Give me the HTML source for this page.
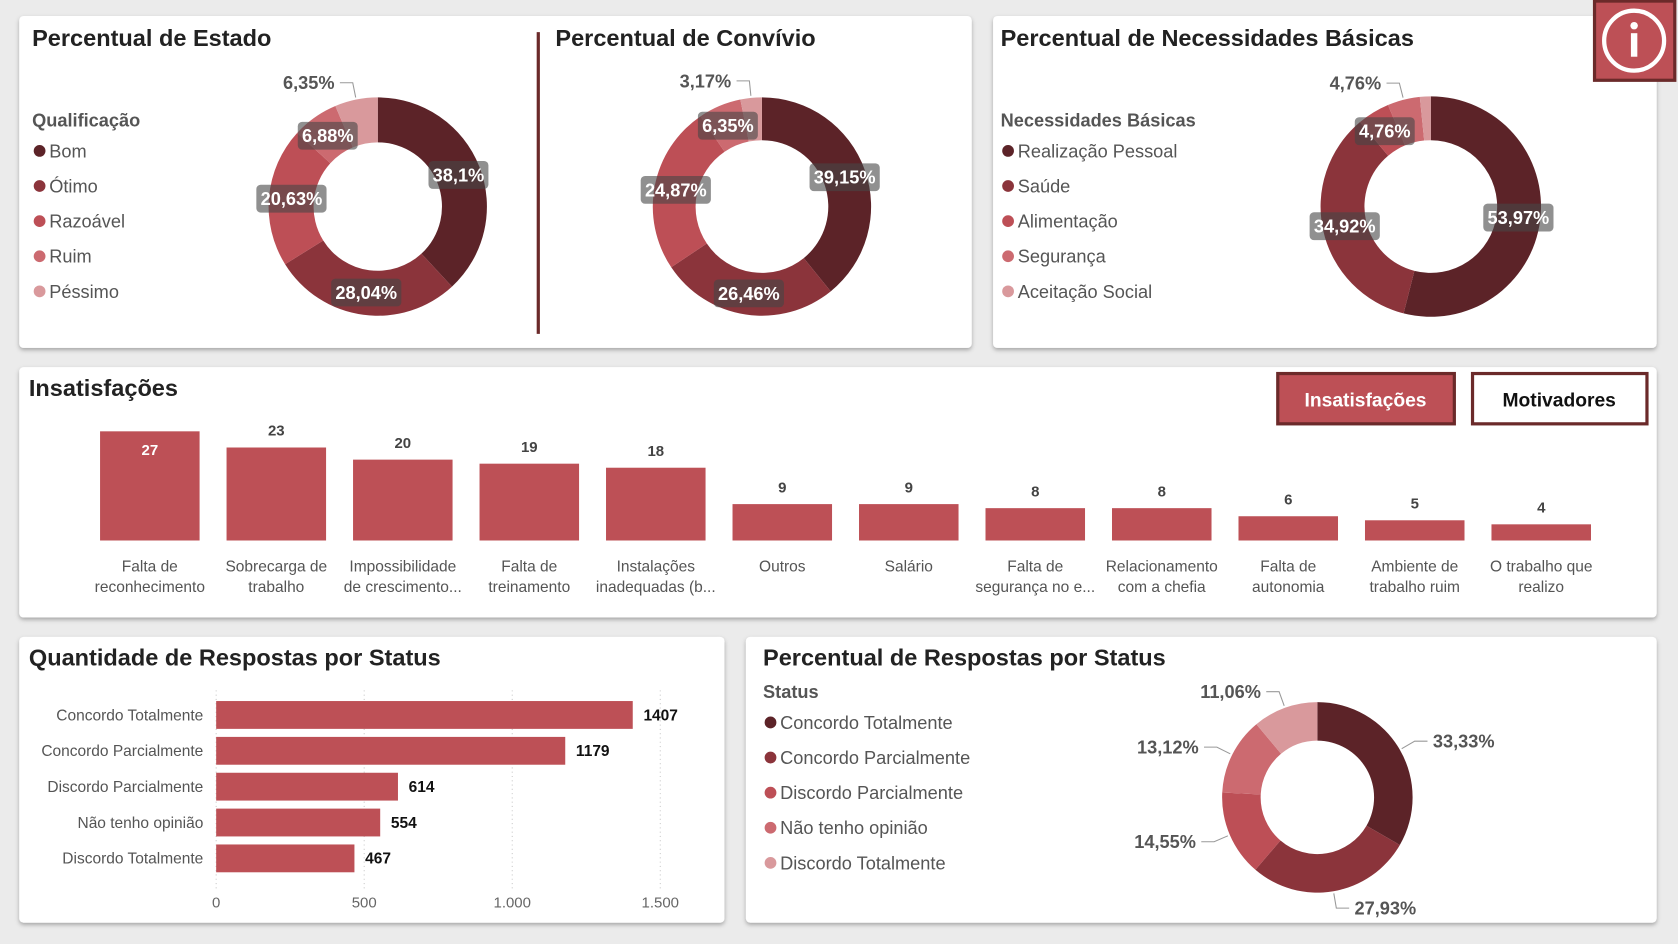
<!DOCTYPE html>
<html><head><meta charset="utf-8">
<style>
html,body{margin:0;padding:0;background:#ebebeb;width:1678px;height:944px;overflow:hidden}
svg{display:block;font-family:"Liberation Sans",sans-serif}
</style></head>
<body>
<svg id="root" width="1678" height="944" viewBox="0 0 1568 882" preserveAspectRatio="none">
<defs>
<filter id="sh" x="-5%" y="-5%" width="110%" height="115%"><feDropShadow dx="0" dy="2" stdDeviation="2" flood-color="#000" flood-opacity="0.3"/></filter>
</defs>
<rect x="0" y="0" width="1568" height="882" fill="#ebebeb"/>
<rect x="18" y="15" width="890" height="310" rx="4" fill="#fff" filter="url(#sh)"/>
<rect x="928" y="15" width="620" height="310" rx="4" fill="#fff" filter="url(#sh)"/>
<rect x="18" y="343" width="1530" height="234" rx="4" fill="#fff" filter="url(#sh)"/>
<rect x="18" y="595" width="659" height="267" rx="4" fill="#fff" filter="url(#sh)"/>
<rect x="697" y="595" width="851" height="267" rx="4" fill="#fff" filter="url(#sh)"/>
<line x1="503" y1="30" x2="503" y2="312" stroke="#6b2a2a" stroke-width="3"/>

<g font-weight="bold" font-size="22" fill="#222">
<text x="30" y="43">Percentual de Estado</text>
<text x="519" y="43">Percentual de Convívio</text>
<text x="935" y="43">Percentual de Necessidades Básicas</text>
<text x="27" y="370">Insatisfações</text>
<text x="27" y="622">Quantidade de Respostas por Status</text>
<text x="713" y="622">Percentual de Respostas por Status</text>
</g>

<g>
<rect x="1490" y="1" width="75" height="74" fill="#bd5056" stroke="#6b2a2a" stroke-width="3"/>
<circle cx="1527" cy="38" r="28" fill="none" stroke="#fff" stroke-width="4"/>
<circle cx="1527" cy="24" r="3.5" fill="#fff"/>
<rect x="1524" y="31" width="6" height="22" fill="#fff"/>
</g>

<g>
<rect x="1194" y="349" width="165" height="47" fill="#bd5056" stroke="#6b2a2a" stroke-width="3"/>
<text x="1276" y="380" text-anchor="middle" font-size="18" font-weight="bold" fill="#fff">Insatisfações</text>
</g>
<g>
<rect x="1376" y="349" width="163" height="47" fill="#fff" stroke="#6b2a2a" stroke-width="3"/>
<text x="1457" y="380" text-anchor="middle" font-size="18" font-weight="bold" fill="#111">Motivadores</text>
</g>
<g id="charts"></g>
</svg>
<script>
const NS='http://www.w3.org/2000/svg';
const root=document.getElementById('charts');
const COLORS=['#5c2328','#8b343b','#bd4f56','#cc6a70','#d9999c'];

const estadoCats=['Bom','Ótimo','Razoável','Ruim','Péssimo'];
const estadoVals=[38.1,28.04,20.63,6.88,6.35];
const convivioVals=[39.15,26.46,24.87,6.35,3.17];
const necCats=['Realização Pessoal','Saúde','Alimentação','Segurança','Aceitação Social'];
const necVals=[53.97,34.92,4.76,4.76,1.59];
const statusCats=['Concordo Totalmente','Concordo Parcialmente','Discordo Parcialmente','Não tenho opinião','Discordo Totalmente'];
const statusPct=[33.33,27.93,14.55,13.12,11.06];
const statusCounts=[1407,1179,614,554,467];
const insCats=[['Falta de','reconhecimento'],['Sobrecarga de','trabalho'],['Impossibilidade','de crescimento...'],['Falta de','treinamento'],['Instalações','inadequadas (b...'],['Outros'],['Salário'],['Falta de','segurança no e...'],['Relacionamento','com a chefia'],['Falta de','autonomia'],['Ambiente de','trabalho ruim'],['O trabalho que','realizo']];
const insVals=[27,23,20,19,18,9,9,8,8,6,5,4];
const xTicks=[0,500,1000,1500];
const xTickLabels=['0','500','1.000','1.500'];

function mk(tag,attrs,parent){const e=document.createElementNS(NS,tag);for(const k in attrs)e.setAttribute(k,attrs[k]);(parent||root).appendChild(e);return e;}
function fmt(v){return String(v).replace('.',',')+'%';}
function pt(cx,cy,r,a){return [cx+r*Math.sin(a),cy-r*Math.cos(a)];}

function donut(name,cx,cy,ro,ri,vals,labelMode){
  const g=mk('g',{});
  
  
  const sg=mk('g',{},g);
  const lg=mk('g',{},g);
  
  
  const tot=vals.reduce((a,b)=>a+b,0);
  let a0=0;
  vals.forEach((v,i)=>{
    const a1=a0+v/tot*2*Math.PI;
    const large=(a1-a0)>Math.PI?1:0;
    const [x0,y0]=pt(cx,cy,ro,a0),[x1,y1]=pt(cx,cy,ro,a1),[x2,y2]=pt(cx,cy,ri,a1),[x3,y3]=pt(cx,cy,ri,a0);
    const p=mk('path',{d:`M${x0},${y0}A${ro},${ro} 0 ${large} 1 ${x1},${y1}L${x2},${y2}A${ri},${ri} 0 ${large} 0 ${x3},${y3}Z`,fill:COLORS[i]},sg);
    
    
    const mid=(a0+a1)/2;
    const mode=labelMode(i,v);
    if(mode==='in'){
      const [lx,ly]=pt(cx,cy,(ro+ri)/2,mid);
      const t=fmt(v);const w=t.length*9.6+8;
      mk('rect',{x:lx-w/2,y:ly-13,width:w,height:26,rx:4,fill:'rgba(70,70,70,0.6)'},lg);
      const tx=mk('text',{x:lx,y:ly+6,'text-anchor':'middle','font-size':17,'font-weight':'bold',fill:'#fff'},lg);
      tx.textContent=t;
      
      
    } else if(mode==='out'){
      const [ex,ey]=pt(cx,cy,ro+2,mid);
      const [ox,oy]=pt(cx,cy,ro+16,mid);
      const right=Math.sin(mid)>=0;
      const hx=ox+(right?12:-12);
      mk('polyline',{points:`${ex},${ey} ${ox},${oy} ${hx},${oy}`,fill:'none',stroke:'#999','stroke-width':1},lg);
      const tx=mk('text',{x:hx+(right?5:-5),y:oy+6,'text-anchor':right?'start':'end','font-size':17,'font-weight':'bold',fill:'#555'},lg);
      tx.textContent=fmt(v);
      
      
    }
    a0=a1;
  });
}

function legend(name,x,y,title,cats,step,fs){
  const g=mk('g',{});
  
  
  const t=mk('text',{x:x,y:y,'font-size':17,'font-weight':'bold',fill:'#555'},g);t.textContent=title;
  cats.forEach((c,i)=>{
    const yy=y+29+i*step;
    mk('circle',{cx:x+7,cy:yy-6,r:5.5,fill:COLORS[i]},g);
    const tx=mk('text',{x:x+16,y:yy,'font-size':fs,fill:'#555'},g);
    tx.textContent=c;
    
    
  });
}

legend('estado-legend',30,118,'Qualificação',estadoCats,32.8,17);
legend('necessidades-legend',935,118,'Necessidades Básicas',necCats,32.8,17);
legend('status-legend',713,652,'Status',statusCats,32.8,17);

donut('estado-donut',353,193,102,60,estadoVals,(i)=>i===4?'out':'in');
donut('convivio-donut',712,193,102,62,convivioVals,(i)=>i===4?'out':'in');
donut('necessidades-donut',1337,193,103,62,necVals,(i)=>i===2?'in':(i===3?'out':(i===4?'none':'in')));
donut('status-donut',1231,745,89,53,statusPct,()=> 'out');

// Column chart
const colBase=505, colUnit=102/27, colX0=140, colStep=118.2, colW=93;
function yCol(v){return colBase-v*colUnit;}
insVals.forEach((v,i)=>{
  const cx=colX0+i*colStep;
  const r=mk('rect',{x:cx-colW/2,y:yCol(v),width:colW,height:colBase-yCol(v),fill:'#bd5056'});
  
  
  const inside=i===0;
  const t=mk('text',{x:cx,y:inside?yCol(v)+22:yCol(v)-11,'text-anchor':'middle','font-size':14,'font-weight':'bold',fill:inside?'#fff':'#444'});
  t.textContent=v;
  
  
  insCats[i].forEach((line,j)=>{
    const c=mk('text',{x:cx,y:534+j*19,'text-anchor':'middle','font-size':14.5,fill:'#555'});
    c.textContent=line;
    
    
  });
});

// Horizontal bar chart
const hx0=202, hUnit=415/1500, hRow0=668, hStep=33.5, hH=26;
function xH(v){return hx0+v*hUnit;}
xTicks.forEach((v,i)=>{
  const l=mk('line',{x1:xH(v),y1:645,x2:xH(v),y2:830,stroke:'#ccc','stroke-dasharray':'1,3'});
  
  
  const t=mk('text',{x:xH(v),y:848,'text-anchor':'middle','font-size':14,fill:'#666'});
  t.textContent=xTickLabels[i];
  
  
});
statusCounts.forEach((v,i)=>{
  const cy=hRow0+i*hStep;
  const r=mk('rect',{x:hx0,y:cy-hH/2,width:xH(v)-hx0,height:hH,fill:'#bd5056'});
  
  
  const c=mk('text',{x:190,y:cy+5,'text-anchor':'end','font-size':14.5,fill:'#555'});
  c.textContent=statusCats[i];
  
  
  const t=mk('text',{x:xH(v)+10,y:cy+5,'font-size':14.5,'font-weight':'bold',fill:'#111'});
  t.textContent=v;
  
  
});
</script>
</body></html>
